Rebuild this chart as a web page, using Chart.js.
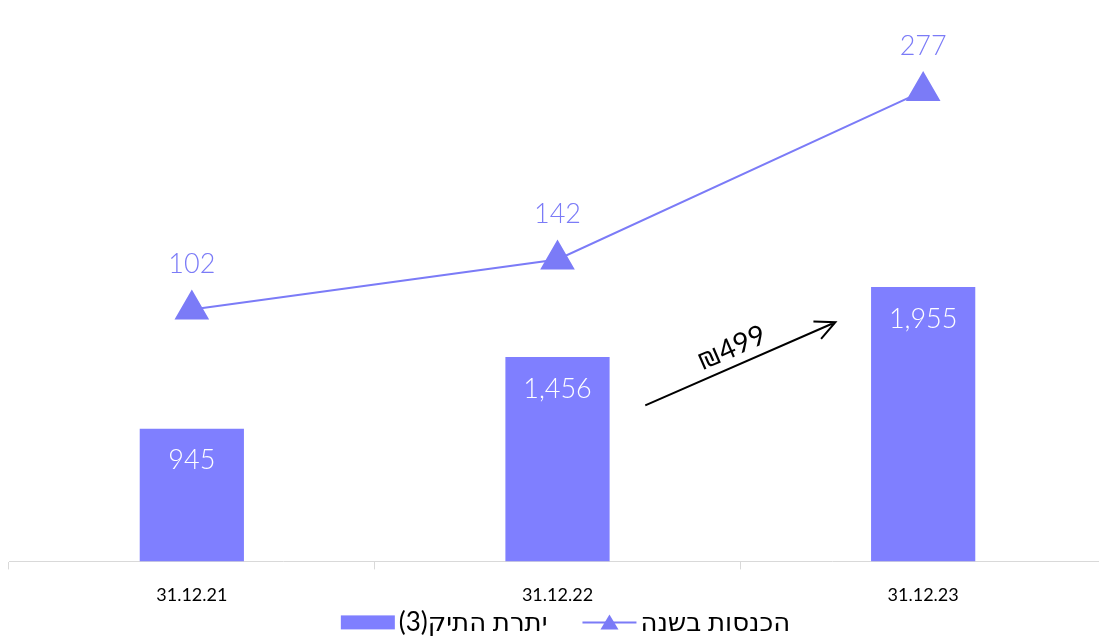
<!DOCTYPE html>
<html>
<head>
<meta charset="utf-8">
<script src="https://cdn.jsdelivr.net/npm/chart.js@4.4.0/dist/chart.umd.min.js"></script>
<style>
  html, body { margin: 0; padding: 0; background: #fff; overflow: hidden; }
  #wrap { width: 1106px; height: 636px; }
</style>
</head>
<body>
<div id="wrap"><canvas id="chart"></canvas></div>
<script>
// Dados do gráfico
const categories = ['31.12.21', '31.12.22', '31.12.23'];
const balanceValues = [945, 1456, 1955];      // יתרת התיק(3)
const incomeValues = [102, 142, 277];         // הכנסות בשנה
const seriesNames = ['יתרת התיק(3)', 'הכנסות בשנה'];

// Seta de anotação (índice da categoria, valor no eixo das barras)
const arrowFrom = [1.24, 1112];
const arrowTo = [1.76, 1704];
const arrowLabel = '₪499';

const barColor = '#7F7FFF';
const lineColor = '#7B7BF7';
const fontFamily = "Lato, 'Noto Sans', 'DejaVu Sans', sans-serif";

// Plugin para rótulos de valores e seta
const labelsPlugin = {
    id: 'labelsPlugin',
    afterDatasetsDraw(chart) {
        const ctx = chart.ctx;
        ctx.save();
        ctx.font = '300 27px ' + fontFamily;
        ctx.textAlign = 'center';
        ctx.textBaseline = 'middle';

        chart.getDatasetMeta(0).data.forEach((bar, i) => {
            ctx.fillStyle = '#ffffff';
            ctx.fillText(balanceValues[i].toLocaleString('en-US'), bar.x, bar.y + 32);
        });
        chart.getDatasetMeta(1).data.forEach((pt, i) => {
            ctx.fillStyle = lineColor;
            ctx.fillText(String(incomeValues[i]), pt.x, pt.y - 45);
        });

        // seta
        const xs = chart.scales.x, ys = chart.scales.y;
        const x1 = xs.getPixelForValue(arrowFrom[0]), y1 = ys.getPixelForValue(arrowFrom[1]);
        const x2 = xs.getPixelForValue(arrowTo[0]), y2 = ys.getPixelForValue(arrowTo[1]);
        const ang = Math.atan2(y2 - y1, x2 - x1);
        ctx.strokeStyle = '#000';
        ctx.lineWidth = 2;
        ctx.beginPath();
        ctx.moveTo(x1, y1); ctx.lineTo(x2, y2);
        const head = 22, spread = 0.45;
        ctx.moveTo(x2 - head * Math.cos(ang - spread), y2 - head * Math.sin(ang - spread));
        ctx.lineTo(x2, y2);
        ctx.lineTo(x2 - head * Math.cos(ang + spread), y2 - head * Math.sin(ang + spread));
        ctx.stroke();

        const mx = (x1 + x2) / 2, my = (y1 + y2) / 2;
        ctx.translate(mx + 18 * Math.sin(ang), my - 18 * Math.cos(ang));
        ctx.rotate(ang);
        ctx.fillStyle = '#000';
        ctx.font = '28px ' + fontFamily;
        ctx.fillText(arrowLabel, -2, 0);
        ctx.restore();
    }
};

// Legenda desenhada à mão (símbolo à esquerda do texto)
const legendPlugin = {
    id: 'customLegend',
    afterDraw(chart) {
        const ctx = chart.ctx;
        const area = chart.chartArea;
        ctx.save();
        ctx.font = '26px ' + fontFamily;
        ctx.direction = 'rtl';
        ctx.textAlign = 'left';
        ctx.textBaseline = 'middle';
        const symW = 54, gapText = 4, gapItems = 35;
        const w0 = ctx.measureText(seriesNames[0]).width;
        const w1 = ctx.measureText(seriesNames[1]).width;
        const total = symW + gapText + w0 + gapItems + symW + gapText + w1;
        let x = (area.left + area.right) / 2 + 8 - total / 2;
        const y = area.bottom + 61;

        // barra
        ctx.fillStyle = barColor;
        ctx.fillRect(x, y - 7, symW, 14);
        x += symW + gapText;
        ctx.fillStyle = '#000';
        ctx.fillText(seriesNames[0], x, y);
        x += w0 + gapItems;

        // linha com triângulo
        ctx.strokeStyle = lineColor;
        ctx.lineWidth = 2;
        ctx.beginPath();
        ctx.moveTo(x, y); ctx.lineTo(x + symW, y);
        ctx.stroke();
        ctx.fillStyle = lineColor;
        ctx.beginPath();
        ctx.moveTo(x + symW / 2, y - 8);
        ctx.lineTo(x + symW / 2 + 9, y + 7);
        ctx.lineTo(x + symW / 2 - 9, y + 7);
        ctx.closePath();
        ctx.fill();
        x += symW + gapText;
        ctx.fillStyle = '#000';
        ctx.fillText(seriesNames[1], x, y);
        ctx.restore();
    }
};

const ctx = document.getElementById('chart').getContext('2d');
new Chart(ctx, {
    data: {
        labels: categories,
        datasets: [{
            type: 'bar',
            label: seriesNames[0],
            data: balanceValues,
            backgroundColor: barColor,
            yAxisID: 'y',
            barPercentage: 1,
            categoryPercentage: 0.285,
            order: 2
        }, {
            type: 'line',
            label: seriesNames[1],
            data: incomeValues,
            borderColor: lineColor,
            backgroundColor: lineColor,
            borderWidth: 2,
            pointStyle: 'triangle',
            pointRadius: 18,
            pointHoverRadius: 18,
            yAxisID: 'y2',
            order: 1,
            clip: false
        }]
    },
    options: {
        responsive: true,
        maintainAspectRatio: false,
        animation: false,
        layout: { autoPadding: false, padding: { left: 9, right: 0, top: 0, bottom: 15 } },
        scales: {
            x: {
                offset: true,
                border: { color: '#d9d9d9', width: 1 },
                grid: { offset: true, color: '#d9d9d9', drawOnChartArea: false, tickLength: 8 },
                ticks: { color: '#000', font: { family: fontFamily, size: 18 }, padding: 15 }
            },
            y: { display: false, min: 0, max: 4000 },
            y2: { display: false, min: -100, max: 350 }
        },
        plugins: {
            tooltip: { enabled: false },
            legend: { display: false }
        }
    },
    plugins: [labelsPlugin, legendPlugin]
});
</script>
</body>
</html>
